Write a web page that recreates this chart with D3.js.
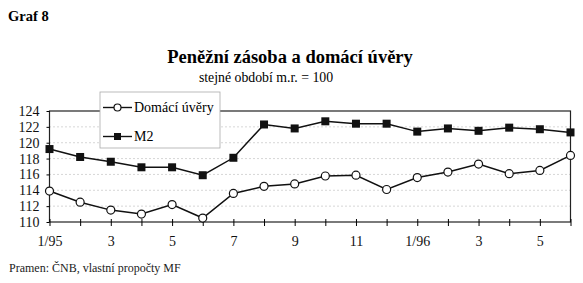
<!DOCTYPE html>
<html>
<head>
<meta charset="utf-8">
<script src="https://cdn.jsdelivr.net/npm/d3@7"></script>
<style>
  body { margin: 0; background: #fff; }
</style>
</head>
<body>
<svg id="chart" width="583" height="283"></svg>
<script>
// months 1/95 .. 6/96
const months = d3.range(18);
const monthLabels = ["1/95", "", "3", "", "5", "", "7", "", "9", "", "11", "", "1/96", "", "3", "", "5", ""];
const domaciUvery = [113.9, 112.5, 111.5, 111.0, 112.2, 110.5, 113.6, 114.5, 114.8, 115.8, 115.9, 114.1, 115.6, 116.3, 117.3, 116.1, 116.5, 118.4];
const m2 = [119.2, 118.2, 117.6, 116.9, 116.9, 115.9, 118.1, 122.3, 121.8, 122.7, 122.4, 122.4, 121.4, 121.8, 121.5, 121.9, 121.7, 121.3];
const yTicks = [110, 112, 114, 116, 118, 120, 122, 124];

const FONT = "'Liberation Serif', 'Times New Roman', 'DejaVu Serif', serif";
const svg = d3.select("#chart").attr("font-family", FONT);
const plotLeft = 49.5, plotRight = 570.5, plotTop = 111, plotBottom = 222;

const x = d3.scaleLinear().domain([0, 17]).range([plotLeft, plotRight]);
const y = d3.scaleLinear().domain([110, 124]).range([plotBottom, plotTop]);

// headings
svg.append("text").attr("x", 8).attr("y", 21)
    .attr("font-size", 14.5).attr("font-weight", "bold").text("Graf 8");
svg.append("text").attr("x", 290).attr("y", 63).attr("text-anchor", "middle")
    .attr("font-size", 18.5).attr("font-weight", "bold").text("Peněžní zásoba a domácí úvěry");
svg.append("text").attr("x", 266).attr("y", 82).attr("text-anchor", "middle")
    .attr("font-size", 13.8).text("stejné období m.r. = 100");
svg.append("text").attr("x", 9).attr("y", 272)
    .attr("font-size", 12).attr("fill", "#222").text("Pramen: ČNB, vlastní propočty MF");

// dotted grid
svg.append("g").selectAll("line")
    .data(yTicks.slice(1, -1))
    .enter()
    .append("line")
    .attr("x1", plotLeft).attr("x2", plotRight)
    .attr("y1", (d) => y(d)).attr("y2", (d) => y(d))
    .attr("stroke", "#999").attr("stroke-width", 0.8)
    .attr("stroke-dasharray", "1,3");

// frame
svg.append("rect").attr("x", plotLeft).attr("y", plotTop)
    .attr("width", plotRight - plotLeft).attr("height", plotBottom - plotTop)
    .attr("fill", "none").attr("stroke", "#222").attr("stroke-width", 1.2);

const yAxis = svg.append("g").attr("transform", `translate(${plotLeft},0)`)
    .call(d3.axisLeft(y).tickValues(yTicks).tickSize(3).tickPadding(7));
yAxis.attr("font-family", FONT).attr("font-size", 14);
yAxis.select(".domain").remove();
yAxis.selectAll("text").attr("fill", "#111");

const xAxis = svg.append("g").attr("transform", `translate(0,${plotBottom})`)
    .call(d3.axisBottom(x).tickValues(months).tickSize(4).tickPadding(10)
        .tickFormat((d) => monthLabels[d]));
xAxis.attr("font-family", FONT).attr("font-size", 14);
xAxis.select(".domain").remove();
xAxis.selectAll("line").attr("y1", -3);
xAxis.selectAll("text").attr("fill", "#111");

const line = d3.line().x((d, i) => x(i)).y((d) => y(d));

// series
svg.append("path").datum(m2).attr("d", line)
    .attr("fill", "none").attr("stroke", "#111").attr("stroke-width", 1.5);
svg.append("g").selectAll("rect").data(m2).enter().append("rect")
    .attr("x", (d, i) => x(i) - 4).attr("y", (d) => y(d) - 4)
    .attr("width", 8).attr("height", 8).attr("fill", "#111");

svg.append("path").datum(domaciUvery).attr("d", line)
    .attr("fill", "none").attr("stroke", "#111").attr("stroke-width", 1.5);
svg.append("g").selectAll("circle").data(domaciUvery).enter().append("circle")
    .attr("cx", (d, i) => x(i)).attr("cy", (d) => y(d)).attr("r", 4)
    .attr("fill", "#fff").attr("stroke", "#111").attr("stroke-width", 1.2);

// legend
const legend = svg.append("g");
legend.append("rect").attr("x", 100).attr("y", 92).attr("width", 120).attr("height", 56)
    .attr("fill", "#fff").attr("stroke", "#aaa").attr("stroke-width", 0.8);
legend.append("line").attr("x1", 103).attr("x2", 132).attr("y1", 107.5).attr("y2", 107.5)
    .attr("stroke", "#111").attr("stroke-width", 1.4);
legend.append("circle").attr("cx", 117.5).attr("cy", 107.5).attr("r", 3.5)
    .attr("fill", "#fff").attr("stroke", "#111").attr("stroke-width", 1.2);
legend.append("text").attr("x", 134).attr("y", 112).attr("font-size", 14).text("Domácí úvěry");
legend.append("line").attr("x1", 103).attr("x2", 132).attr("y1", 136.5).attr("y2", 136.5)
    .attr("stroke", "#111").attr("stroke-width", 1.4);
legend.append("rect").attr("x", 114).attr("y", 133).attr("width", 7).attr("height", 7).attr("fill", "#111");
legend.append("text").attr("x", 134).attr("y", 141).attr("font-size", 14).text("M2");
</script>
</body>
</html>
